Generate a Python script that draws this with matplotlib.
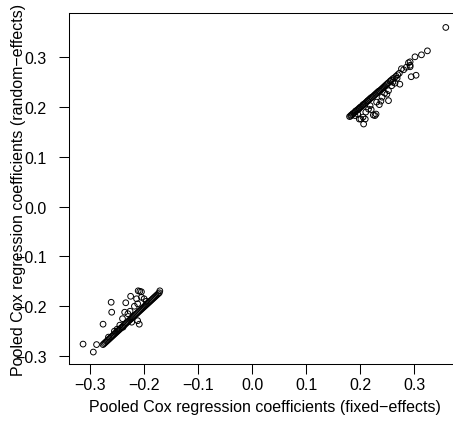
import matplotlib
matplotlib.use("Agg")
import matplotlib.pyplot as plt

plt.rcParams['font.family'] = ['Liberation Sans', 'DejaVu Sans']

# dense band, positive cluster (fixed vs random effects almost identical)
pos_line_x = [0.180, 0.182, 0.183, 0.185, 0.186, 0.188, 0.190, 0.191, 0.193, 0.195,
              0.197, 0.198, 0.200, 0.202, 0.204, 0.205, 0.207, 0.209, 0.211, 0.213,
              0.214, 0.216, 0.218, 0.220, 0.222, 0.224, 0.226, 0.228, 0.230, 0.232,
              0.234, 0.236, 0.238, 0.240, 0.242, 0.244, 0.246, 0.248, 0.250, 0.252,
              0.255, 0.257, 0.260, 0.263, 0.266, 0.269, 0.272]
pos_line_y = [0.181, 0.182, 0.184, 0.185, 0.187, 0.188, 0.190, 0.192, 0.193, 0.195,
              0.196, 0.198, 0.200, 0.201, 0.203, 0.205, 0.206, 0.208, 0.210, 0.212,
              0.213, 0.215, 0.217, 0.219, 0.220, 0.222, 0.224, 0.226, 0.228, 0.230,
              0.232, 0.233, 0.235, 0.237, 0.239, 0.241, 0.243, 0.245, 0.247, 0.249,
              0.252, 0.254, 0.257, 0.259, 0.262, 0.265, 0.268]

# scattered points, positive cluster
pos_out_x = [0.358, 0.324, 0.313, 0.301, 0.292, 0.289, 0.292, 0.292, 0.294, 0.303,
             0.276, 0.273, 0.264, 0.258, 0.252, 0.249, 0.252, 0.224, 0.229, 0.209,
             0.206, 0.201, 0.198, 0.205, 0.227, 0.215, 0.218, 0.230, 0.240, 0.245,
             0.238, 0.235, 0.210, 0.220, 0.260, 0.268, 0.280, 0.285, 0.190, 0.195]
pos_out_y = [0.360, 0.313, 0.305, 0.301, 0.291, 0.289, 0.284, 0.281, 0.261, 0.264,
             0.277, 0.246, 0.248, 0.243, 0.233, 0.226, 0.213, 0.184, 0.186, 0.176,
             0.166, 0.176, 0.176, 0.180, 0.183, 0.196, 0.203, 0.210, 0.220, 0.228,
             0.212, 0.205, 0.190, 0.195, 0.250, 0.258, 0.275, 0.280, 0.183, 0.186]

# dense band, negative cluster
neg_line_x = [-0.276, -0.274, -0.272, -0.270, -0.268, -0.266, -0.264, -0.262, -0.260, -0.258,
              -0.256, -0.254, -0.252, -0.250, -0.248, -0.246, -0.244, -0.242, -0.240, -0.238,
              -0.236, -0.234, -0.232, -0.230, -0.228, -0.226, -0.224, -0.222, -0.220, -0.218,
              -0.216, -0.214, -0.212, -0.210, -0.208, -0.206, -0.204, -0.202, -0.200, -0.198,
              -0.196, -0.194, -0.192, -0.190, -0.188, -0.186, -0.184, -0.182, -0.180, -0.178,
              -0.176, -0.174, -0.172]
neg_line_y = [-0.277, -0.275, -0.273, -0.271, -0.269, -0.267, -0.265, -0.263, -0.261, -0.259,
              -0.257, -0.255, -0.253, -0.251, -0.249, -0.247, -0.245, -0.243, -0.241, -0.239,
              -0.237, -0.235, -0.233, -0.231, -0.229, -0.227, -0.225, -0.223, -0.221, -0.219,
              -0.217, -0.215, -0.213, -0.211, -0.209, -0.207, -0.205, -0.203, -0.201, -0.199,
              -0.197, -0.195, -0.193, -0.191, -0.189, -0.187, -0.185, -0.183, -0.181, -0.179,
              -0.177, -0.175, -0.173]

# scattered points, negative cluster
neg_out_x = [-0.313, -0.294, -0.288, -0.276, -0.261, -0.260, -0.234, -0.236, -0.225, -0.211,
             -0.208, -0.205, -0.214, -0.205, -0.209, -0.239, -0.223, -0.250, -0.245, -0.230,
             -0.218, -0.212, -0.200, -0.266, -0.255, -0.240, -0.226, -0.171, -0.212, -0.196]
neg_out_y = [-0.276, -0.292, -0.277, -0.236, -0.192, -0.212, -0.193, -0.212, -0.180, -0.169,
             -0.170, -0.171, -0.185, -0.182, -0.236, -0.242, -0.232, -0.246, -0.238, -0.215,
             -0.200, -0.195, -0.185, -0.262, -0.250, -0.225, -0.210, -0.169, -0.229, -0.190]

ticks = [-0.3, -0.2, -0.1, 0.0, 0.1, 0.2, 0.3]
tick_labels = ['\u22120.3', '\u22120.2', '\u22120.1', '0.0', '0.1', '0.2', '0.3']

fig = plt.figure(figsize=(4.53, 4.27), dpi=100)
# plot region runs past the right edge of the picture
ax = fig.add_axes([0.1523, 0.1452, 0.8664, 0.822])

style = dict(s=17, facecolors='none', edgecolors='black', linewidths=0.7)
for xs, ys in [(pos_line_x, pos_line_y), (pos_out_x, pos_out_y),
               (neg_line_x, neg_line_y), (neg_out_x, neg_out_y)]:
    ax.scatter(xs, ys, **style)

ax.set_xlim(-0.339, 0.387)
ax.set_ylim(-0.316, 0.389)
ax.set_xticks(ticks)
ax.set_xticklabels(tick_labels)
ax.set_yticks(ticks)
ax.set_yticklabels(tick_labels)
ax.tick_params(direction='out', length=7, width=0.75, labelsize=11.5)
ax.tick_params(axis='x', pad=2.5)
ax.tick_params(axis='y', pad=9)
for sp in ax.spines.values():
    sp.set_linewidth(0.75)

ax.set_xlabel('Pooled Cox regression coefficients (fixed\u2212effects)', fontsize=11.5, va='center')
ax.set_ylabel('Pooled Cox regression coefficients (random\u2212effects)', fontsize=11.5, va='center')
ax.xaxis.set_label_coords(0.5, -0.122)
ax.yaxis.set_label_coords(-0.128, 0.5)

fig.savefig('out.png', dpi=100)
